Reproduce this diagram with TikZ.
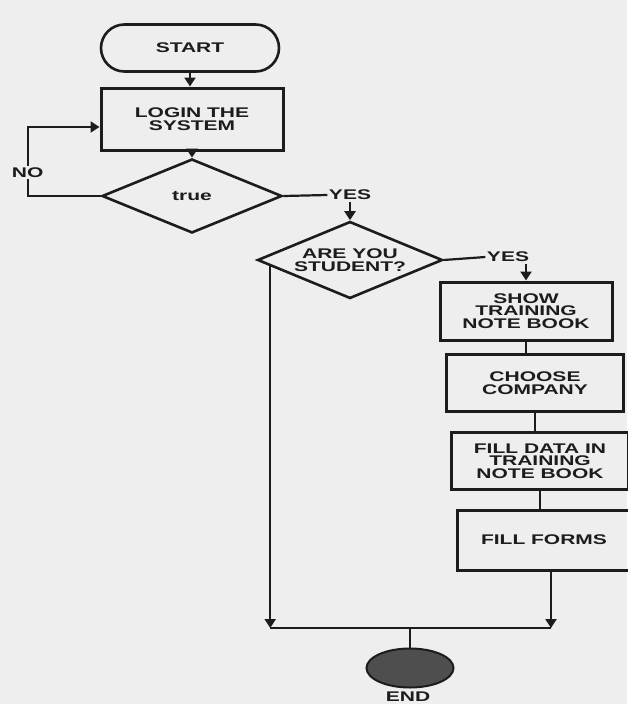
\documentclass[tikz,border=0pt]{standalone}
\usepackage{fontspec}
\newfontfamily\wf{Liberation Sans}[FakeStretch=1.5]
\usetikzlibrary{shapes.geometric,shapes.misc,arrows.meta}
\definecolor{bg}{RGB}{238,238,238}
\definecolor{ink}{RGB}{28,28,28}
\definecolor{endfill}{RGB}{78,78,78}
\begin{document}
\begin{tikzpicture}[x=1pt,y=-1pt,
  txt/.style={font=\wf\bfseries\fontsize{14}{12.5}\selectfont, text=ink, align=center},
  term/.style={txt, rounded rectangle, draw=ink, line width=2.6pt, minimum width=178pt, minimum height=47pt, inner sep=0pt},
  box/.style={txt, rectangle, draw=ink, line width=3pt, minimum width=175pt, minimum height=58pt, inner sep=0pt},
  dec/.style={txt, diamond, draw=ink, line width=2.6pt, aspect=2.4, inner sep=0pt},
  lab/.style={txt, inner sep=1.5pt},
  conn/.style={draw=ink, line width=2.2pt},
  arr/.style={conn, -{Triangle[width=11pt,length=9pt]}},
  endnode/.style={ellipse, draw=ink, line width=2pt, fill=endfill, minimum width=87pt, minimum height=39pt, inner sep=0pt}
]
\fill[bg] (0,0) rectangle (627,704);
\useasboundingbox (0,0) rectangle (627,704);

\node[term] (start) at (190,48) {START};
\node[box, minimum width=182pt, minimum height=62pt] (login) at (192,119) {LOGIN THE\\SYSTEM};
\node[dec, minimum width=180pt, minimum height=74pt] (d1) at (192,196) {true};
\node[lab] (yes1) at (350,195) {YES};
\node[dec, minimum width=185pt, minimum height=77pt] (d2) at (350,260) {ARE YOU\\STUDENT?};
\node[lab] (yes2) at (508,257) {YES};
\node[box, minimum width=172pt] (show) at (526,311) {SHOW\\TRAINING\\NOTE BOOK};
\node[box, minimum width=177pt, minimum height=57pt] (choose) at (535,383) {CHOOSE\\COMPANY};
\node[box, minimum width=177pt, minimum height=57pt] (filldata) at (540,461) {FILL DATA IN\\TRAINING\\NOTE BOOK};
\node[box, minimum width=174pt, minimum height=60pt] (fillforms) at (544,540) {FILL FORMS};
\node[endnode] (end) at (410,668) {};
\node[lab] (endlab) at (408,697) {END};

\draw[arr] (start.south) -- (start.south |- login.north);
\draw[arr] (login.south) -- (login.south |- d1.north);
\draw[arr] (d1.west) -- ++(-73,0) |- node[lab, fill=bg, pos=0.17] (no) {NO} ([yshift=-8pt]login.west);
\draw[conn] (d1.east) -- (yes1.west);
\draw[arr] (yes1.south) -- (yes1.south |- d2.north);
\draw[conn] (d2.east) -- (yes2.west);
\draw[arr] (show.north |- yes2.south) -- (show.north);
\draw[conn] (show.south) -- (show.south |- choose.north);
\draw[conn] (choose.south) -- (choose.south |- filldata.north);
\draw[conn] (filldata.south) -- (filldata.south |- fillforms.north);

\coordinate (lstart) at ([xshift=14pt,yshift=-6pt]d2.west);
\coordinate (bm) at (410,628);
\coordinate (bl) at (lstart |- bm);
\coordinate (fr) at ([xshift=7pt]fillforms.south);
\coordinate (br) at (fr |- bm);
\draw[arr] (lstart) -- (bl);
\draw[arr] (fr) -- (br);
\draw[conn] (bl) -- (br);
\draw[conn] (bm) -- (end.north);
\end{tikzpicture}
\end{document}
